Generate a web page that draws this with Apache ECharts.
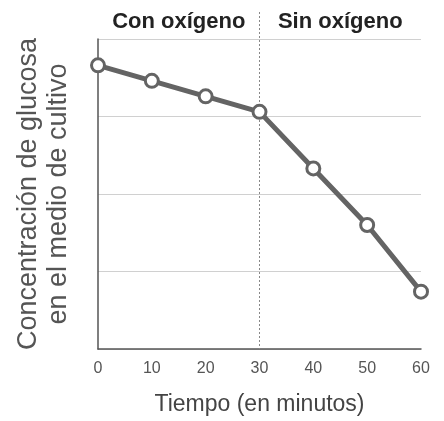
<!DOCTYPE html>
<html><head><meta charset="utf-8">
<script src="https://cdn.jsdelivr.net/npm/echarts@6/dist/echarts.min.js"></script>
<style>html,body{margin:0;padding:0;background:#fff}#c{width:444px;height:421px}</style>
</head><body><div id="c"></div>
<script>
var minutes = [0, 10, 20, 30, 40, 50, 60];
var glucose = [3.66, 3.46, 3.26, 3.06, 2.33, 1.60, 0.74];
var phaseLabels = ['Con oxígeno', 'Sin oxígeno'];
var phaseSplit = 30;
var xName = 'Tiempo (en minutos)';
var yName = 'Concentración de glucosa\nen el medio de cultivo';

var FONT = '"Liberation Sans", Arial, Helvetica, sans-serif';
var chart = echarts.init(document.getElementById('c'), null, {renderer: 'canvas'});
var data = minutes.map(function (m, i) { return [m, glucose[i]]; });
chart.setOption({
  animation: false,
  grid: {left: 98, right: 23, top: 39, bottom: 70},
  xAxis: {
    type: 'value', min: 0, max: 60, interval: 10,
    axisLine: {show: true, lineStyle: {color: '#555', width: 1.5}},
    axisTick: {show: false},
    splitLine: {show: false},
    axisLabel: {fontFamily: FONT, fontSize: 16, color: '#555', margin: 12},
    name: xName, nameLocation: 'middle', nameGap: 44,
    nameTextStyle: {fontFamily: FONT, fontSize: 23, color: '#444'}
  },
  yAxis: {
    type: 'value', min: 0, max: 4, interval: 1,
    axisLine: {show: true, lineStyle: {color: '#555', width: 1.5}},
    axisTick: {show: false},
    axisLabel: {show: false},
    splitLine: {show: true, lineStyle: {color: '#d0d0d0', width: 1}},
    name: yName, nameLocation: 'middle', nameGap: 24, nameRotate: 90,
    nameTextStyle: {fontFamily: FONT, fontSize: 27, color: '#555', lineHeight: 30}
  },
  series: [{
    type: 'line', data: data,
    lineStyle: {color: '#646464', width: 5},
    symbol: 'circle', symbolSize: 13,
    itemStyle: {color: '#fff', borderColor: '#646464', borderWidth: 3},
    z: 5
  }]
});

function place() {
  var p0 = chart.convertToPixel({gridIndex: 0}, [0, 0]);
  var pS = chart.convertToPixel({gridIndex: 0}, [phaseSplit, 4]);
  var pE = chart.convertToPixel({gridIndex: 0}, [60, 0]);
  chart.setOption({
    graphic: [
      {type: 'line', shape: {x1: pS[0], y1: 12, x2: pS[0], y2: p0[1]},
       style: {stroke: '#888', lineWidth: 1, lineDash: [2, 2]}, z: 1},
      {type: 'text', x: (p0[0] + pS[0]) / 2, y: 22,
       style: {text: phaseLabels[0], font: 'bold 22px ' + FONT, fill: '#222', align: 'center', verticalAlign: 'middle'}},
      {type: 'text', x: (pS[0] + pE[0]) / 2, y: 22,
       style: {text: phaseLabels[1], font: 'bold 22px ' + FONT, fill: '#222', align: 'center', verticalAlign: 'middle'}}
    ]
  });
}
place();
</script>
</body></html>
